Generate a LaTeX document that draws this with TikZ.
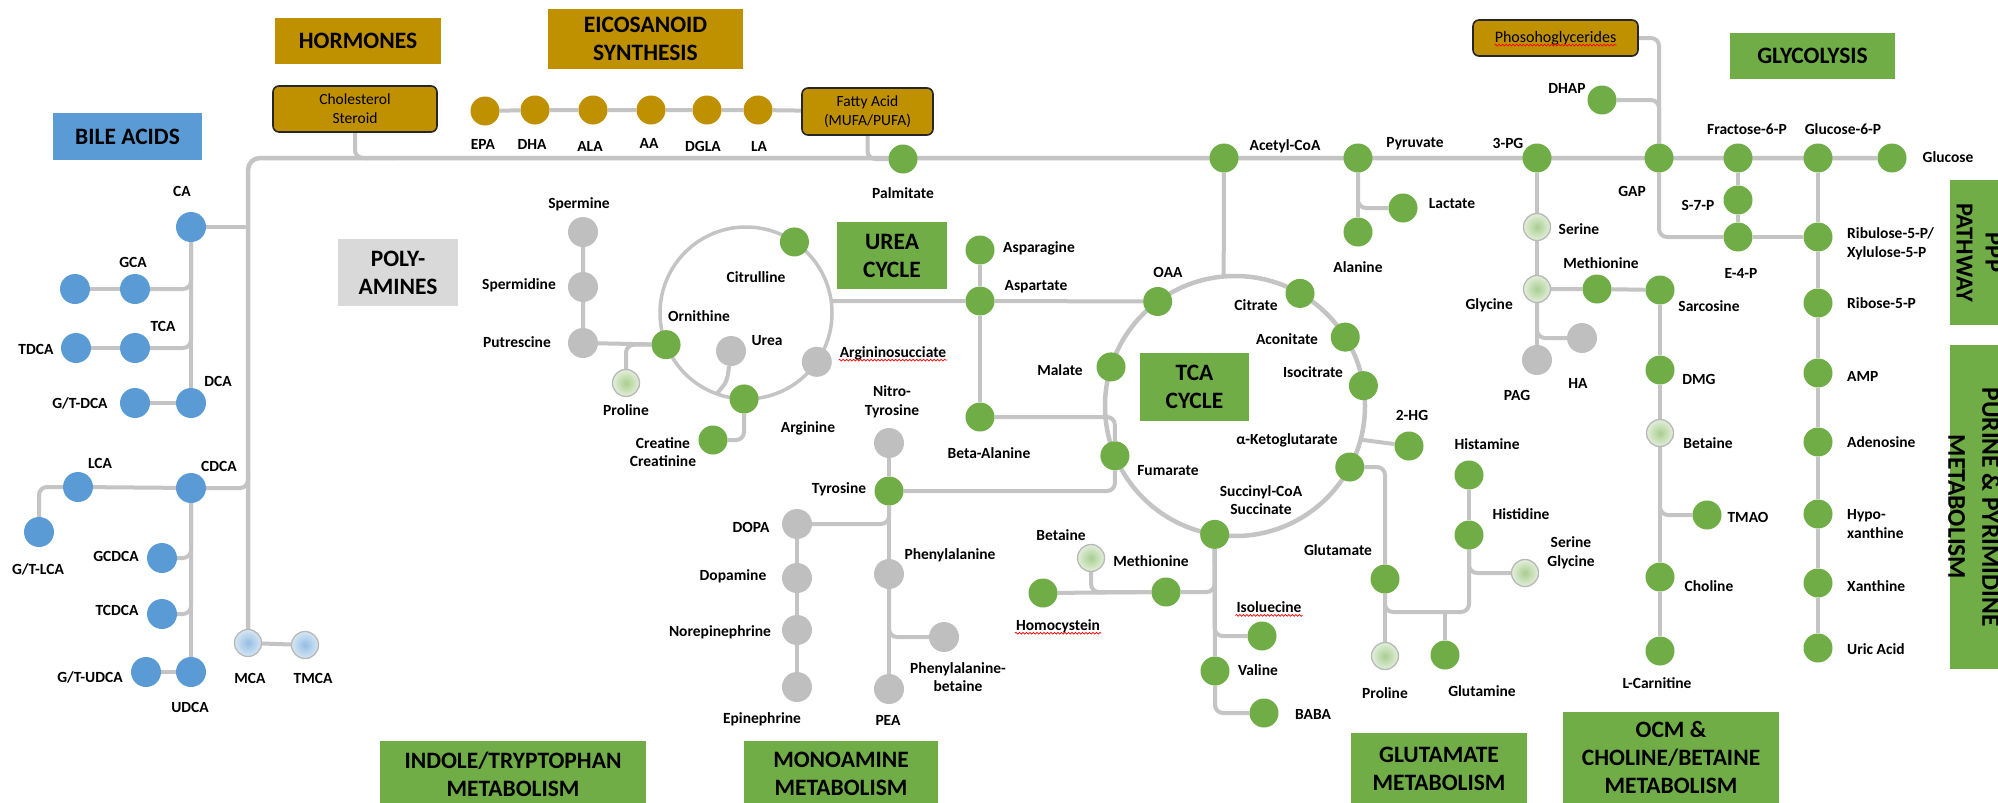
\documentclass[tikz,border=0pt]{standalone}
\usepackage{fontspec}
\setmainfont{Carlito}
\usetikzlibrary{calc,backgrounds,shadings,decorations.pathmorphing}

\definecolor{mgreen}{HTML}{70AD47}
\definecolor{mblue}{HTML}{5B9BD5}
\definecolor{mgold}{HTML}{BF9000}
\definecolor{mgrey}{HTML}{BFBFBF}
\definecolor{mline}{HTML}{C4C4C4}
\definecolor{mpale}{HTML}{D9D9D9}

\tikzset{
  met/.style={circle,minimum size=29pt,inner sep=0pt},
  gnode/.style={met,fill=mgreen},
  bnode/.style={met,fill=mblue,minimum size=30pt},
  ynode/.style={met,fill=mgold},
  snode/.style={met,fill=mgrey,minimum size=30pt},
  lgnode/.style={met,minimum size=27pt,draw=black!28,line width=1.3pt,inner color=mgreen!60!white,outer color=mgreen!20!white},
  lbnode/.style={met,minimum size=27pt,draw=black!28,line width=1.3pt,inner color=mblue!65!white,outer color=mblue!25!white},
  lab/.style={font=\bfseries\fontsize{15.5}{18.5}\selectfont,align=center,inner sep=1pt},
  ttl/.style={font=\bfseries\fontsize{23.5}{28}\selectfont,align=center,inner sep=0pt},
  gbox/.style={draw=black!85,line width=1.6pt,rounded corners=6pt,fill=mgold,font=\fontsize{15.5}{19}\selectfont,align=center,inner sep=0pt},
  link/.style={draw=mline,line width=4pt,rounded corners=8pt},
  squig/.style={red,line width=.7pt,decorate,decoration={snake,amplitude=.9pt,segment length=3.5pt}},
}

\begin{document}
\begin{tikzpicture}[x=1pt,y=-1pt]
\useasboundingbox (0,0) rectangle (1998,803);

% section titles
\node[ttl,fill=mgold,minimum width=166pt,minimum height=46pt] (hormones) at (358,41) {HORMONES};
\node[ttl,fill=mgold,minimum width=195pt,minimum height=60pt] (eico) at (645.5,39) {EICOSANOID\\SYNTHESIS};
\node[ttl,fill=mblue,minimum width=149pt,minimum height=47pt] (bile) at (127.5,136.5) {BILE ACIDS};
\node[ttl,fill=mpale,minimum width=120pt,minimum height=67pt] (poly) at (398,272.5) {POLY-\\AMINES};
\node[ttl,fill=mgreen,minimum width=110pt,minimum height=67pt] (ureabox) at (892,255.5) {UREA\\CYCLE};
\node[ttl,fill=mgreen,minimum width=109pt,minimum height=68pt] (tcabox) at (1194.5,387) {TCA\\CYCLE};
\node[ttl,fill=mgreen,minimum width=165pt,minimum height=46pt] (glyc) at (1812.5,56) {GLYCOLYSIS};
\fill[mgreen] (1950,180) rectangle (2010,325);
\node[ttl,rotate=-90,font=\bfseries\fontsize{24.5}{29}\selectfont] (ppp) at (1979,252.5) {PPP\\PATHWAY};
\fill[mgreen] (1950,345) rectangle (2010,669);
\node[ttl,rotate=-90,font=\bfseries\fontsize{25.5}{34}\selectfont] (purine) at (1974,507) {PURINE \& PYRIMIDINE\\METABOLISM};
\node[ttl,fill=mgreen,minimum width=266pt,minimum height=66pt] (indole) at (513,774) {INDOLE/TRYPTOPHAN\\METABOLISM};
\node[ttl,fill=mgreen,minimum width=194pt,minimum height=66pt] (mono) at (841,774) {MONOAMINE\\METABOLISM};
\node[ttl,fill=mgreen,minimum width=176pt,minimum height=71pt] (glutm) at (1439,768.5) {GLUTAMATE\\METABOLISM};
\node[ttl,fill=mgreen,minimum width=216pt,minimum height=91pt] (ocm) at (1671,757.5) {OCM \&\\CHOLINE/BETAINE\\METABOLISM};

% bile acids
\node[bnode] (ca) at (191,227) {};
\node[lab] (ca-t) at (182,191) {CA};
\node[bnode] (gca) at (135,289) {};
\node[lab] (gca-t) at (133,262) {GCA};
\node[bnode] (gca0) at (75,289) {};
\node[bnode] (tauca) at (135,348) {};
\node[lab] (tauca-t) at (163,326) {TCA};
\node[bnode] (tdca) at (76,348) {};
\node[lab] (tdca-t) at (36,349) {TDCA};
\node[bnode] (dca) at (191,403) {};
\node[lab] (dca-t) at (218,381) {DCA};
\node[bnode] (gtdca) at (135,403) {};
\node[lab] (gtdca-t) at (80,403) {G/T-DCA};
\node[bnode] (lca) at (78,487) {};
\node[lab] (lca-t) at (100,463) {LCA};
\node[bnode] (cdca) at (191,488) {};
\node[lab] (cdca-t) at (219,466) {CDCA};
\node[bnode] (gtlca) at (39,532) {};
\node[lab] (gtlca-t) at (38,569) {G/T-LCA};
\node[bnode] (gcdca) at (162,558) {};
\node[lab] (gcdca-t) at (116,556) {GCDCA};
\node[bnode] (tcdca) at (162,614) {};
\node[lab] (tcdca-t) at (117,610) {TCDCA};
\node[bnode] (udca) at (191,672) {};
\node[lab] (udca-t) at (190,707) {UDCA};
\node[bnode] (gtudca) at (146,672) {};
\node[lab] (gtudca-t) at (90,677) {G/T-UDCA};
\node[lbnode] (mca) at (248,643) {};
\node[lab] (mca-t) at (250,678) {MCA};
\node[lbnode] (tmca) at (305,645) {};
\node[lab] (tmca-t) at (313,678) {TMCA};

% hormones, eicosanoids
\node[gbox,minimum width=164pt,minimum height=46pt] (chol) at (355,109) {Cholesterol\\Steroid};
\node[gbox,minimum width=131pt,minimum height=47pt] (fatty) at (867.5,111.5) {Fatty Acid\\(MUFA/PUFA)};
\node[ynode] (epa) at (485,111) {};
\node[lab] (epa-t) at (483,144) {EPA};
\node[ynode] (dha) at (535,110) {};
\node[lab] (dha-t) at (532,144) {DHA};
\node[ynode] (ala) at (593,110) {};
\node[lab] (ala-t) at (590,146) {ALA};
\node[ynode] (aa) at (651,110) {};
\node[lab] (aa-t) at (649,143) {AA};
\node[ynode] (dgla) at (707,110) {};
\node[lab] (dgla-t) at (703,146) {DGLA};
\node[ynode] (la) at (758,110) {};
\node[lab] (la-t) at (759,146) {LA};
\node[gnode] (palm) at (903,159) {};
\node[lab] (palm-t) at (903,193) {Palmitate};

% polyamines and urea cycle
\coordinate (ucen) at (746,313);
\node[snode] (spm) at (583,232) {};
\node[lab] (spm-t) at (579,204) {Spermine};
\node[snode] (spmd) at (583,287) {};
\node[lab] (spmd-t) at (519,285) {Spermidine};
\node[snode] (putr) at (583,343) {};
\node[lab] (putr-t) at (517,342) {Putrescine};
\node[lgnode] (pro1) at (626,383) {};
\node[lab] (pro1-t) at (626,410) {Proline};
\node[gnode] (citr) at ($(ucen)+(-55.7:86)$) {};
\node[lab] (citr-t) at (756,277) {Citrulline};
\node[gnode] (orn) at ($(ucen)+(158.4:86)$) {};
\node[lab] (orn-t) at (699,316) {Ornithine};
\node[gnode] (arg) at ($(ucen)+(91.3:86)$) {};
\node[lab] (arg-t) at (808,428) {Arginine};
\node[snode] (asuc) at ($(ucen)+(34.6:86)$) {};
\node[lab] (asuc-t) at (893,353) {Argininosucciate};
\node[snode] (urea) at (731,351) {};
\node[lab] (urea-t) at (767,341) {Urea};
\node[gnode] (creat) at (713,440) {};
\node[lab] (creat-t) at (663,452) {Creatine\\Creatinine};

% aspartate, tyrosine
\node[gnode] (asn) at (980,250) {};
\node[lab] (asn-t) at (1039,248) {Asparagine};
\node[gnode] (asp) at (980,301) {};
\node[lab] (asp-t) at (1036,287) {Aspartate};
\node[gnode] (bala) at (980,417) {};
\node[lab] (bala-t) at (989,453) {Beta-Alanine};
\node[snode] (ntyr) at (889,443) {};
\node[lab] (ntyr-t) at (892,402) {Nitro-\\Tyrosine};
\node[gnode] (tyr) at (889,491) {};
\node[lab] (tyr-t) at (839,489) {Tyrosine};
\node[snode] (dopa) at (797,524) {};
\node[lab] (dopa-t) at (751,527) {DOPA};
\node[snode] (dopm) at (797,578) {};
\node[lab] (dopm-t) at (733,576) {Dopamine};
\node[snode] (nore) at (797,630) {};
\node[lab] (nore-t) at (720,632) {Norepinephrine};
\node[snode] (epi) at (797,687) {};
\node[lab] (epi-t) at (762,719) {Epinephrine};
\node[snode] (phe) at (889,574) {};
\node[lab] (phe-t) at (950,555) {Phenylalanine};
\node[snode] (pea) at (889,689) {};
\node[lab] (pea-t) at (888,720) {PEA};
\node[snode] (phebet) at (944,637) {};
\node[lab] (phebet-t) at (958,677) {Phenylalanine-\\betaine};

% tca cycle
\coordinate (tcen) at (1235,406);
\node[gnode] (acoa) at (1224,158) {};
\node[lab] (acoa-t) at (1285,146) {Acetyl-CoA};
\node[gnode] (pyr) at (1358,158) {};
\node[lab] (pyr-t) at (1415,144) {Pyruvate};
\node[gnode] (lac) at (1403,208) {};
\node[lab] (lac-t) at (1452,204) {Lactate};
\node[gnode] (alan) at (1358,232) {};
\node[lab] (alan-t) at (1358,267) {Alanine};
\node[gnode] (oaa) at ($(tcen)+(-126.5:130)$) {};
\node[lab] (oaa-t) at (1168,272) {OAA};
\node[gnode] (cit) at ($(tcen)+(-60:130)$) {};
\node[lab] (cit-t) at (1256,305) {Citrate};
\node[gnode] (acon) at ($(tcen)+(-32:130)$) {};
\node[lab] (acon-t) at (1287,339) {Aconitate};
\node[gnode] (isoc) at ($(tcen)+(-9:130)$) {};
\node[lab] (isoc-t) at (1313,372) {Isocitrate};
\node[gnode] (akg) at ($(tcen)+(28:130)$) {};
\node[lab] (akg-t) at (1287,440) {α-Ketoglutarate};
\node[gnode] (succ) at ($(tcen)+(99:130)$) {};
\node[lab] (succ-t) at (1261,500) {Succinyl-CoA\\Succinate};
\node[gnode] (fum) at ($(tcen)+(157.5:130)$) {};
\node[lab] (fum-t) at (1168,471) {Fumarate};
\node[gnode] (mal) at ($(tcen)+(197.5:130)$) {};
\node[lab] (mal-t) at (1060,370) {Malate};
\node[gnode] (hg2) at (1409,446) {};
\node[lab] (hg2-t) at (1412,415) {2-HG};
\node[gnode] (val) at (1215,671) {};
\node[lab] (val-t) at (1258,670) {Valine};
\node[gnode] (baba) at (1264,713) {};
\node[lab] (baba-t) at (1313,714) {BABA};
\node[gnode] (ile) at (1262,636) {};
\node[lab] (ile-t) at (1269,607) {Isoluecine};
\node[gnode] (met1) at (1166,592) {};
\node[lab] (met1-t) at (1151,561) {Methionine};
\node[gnode] (hcy) at (1043,593) {};
\node[lab] (hcy-t) at (1058,626) {Homocystein};
\node[lgnode] (bet1) at (1091,558) {};
\node[lab] (bet1-t) at (1061,535) {Betaine};

% glutamate
\node[gnode] (glu) at (1385,579) {};
\node[lab] (glu-t) at (1338,550) {Glutamate};
\node[lgnode] (pro2) at (1385,656) {};
\node[lab] (pro2-t) at (1385,693) {Proline};
\node[gnode] (gln) at (1445,655) {};
\node[lab] (gln-t) at (1482,691) {Glutamine};
\node[gnode] (hista) at (1469,475) {};
\node[lab] (hista-t) at (1487,444) {Histamine};
\node[gnode] (histi) at (1469,535) {};
\node[lab] (histi-t) at (1521,514) {Histidine};
\node[lgnode] (sergly) at (1525,573) {};
\node[lab] (sergly-t) at (1571,553) {Serine\\Glycine};

% glycolysis, ppp, purines
\node[gbox,minimum width=165pt,minimum height=36pt,font=\fontsize{16}{19}\selectfont] (phos) at (1555.5,38) {Phosohoglycerides};
\node[gnode] (dhap) at (1602,100) {};
\node[lab] (dhap-t) at (1567,88) {DHAP};
\node[gnode] (pg3) at (1537,158) {};
\node[lab] (pg3-t) at (1508,143) {3-PG};
\node[gnode] (gap) at (1659,158) {};
\node[lab] (gap-t) at (1632,191) {GAP};
\node[gnode] (f6p) at (1738,158) {};
\node[lab] (f6p-t) at (1747,129) {Fractose-6-P};
\node[gnode] (g6p) at (1818,158) {};
\node[lab] (g6p-t) at (1843,129) {Glucose-6-P};
\node[gnode] (glc) at (1892,158) {};
\node[lab] (glc-t) at (1948,157) {Glucose};
\node[gnode] (s7p) at (1738,200) {};
\node[lab] (s7p-t) at (1698,205) {S-7-P};
\node[gnode] (e4p) at (1738,237) {};
\node[lab] (e4p-t) at (1741,273) {E-4-P};
\node[gnode] (ru5p) at (1818,237) {};
\node[lab,anchor=west,align=left] (ru5p-t) at (1846,244) {Ribulose-5-P/\\Xylulose-5-P};
\node[gnode] (r5p) at (1818,303) {};
\node[lab,anchor=west] (r5p-t) at (1846,303) {Ribose-5-P};
\node[gnode] (amp) at (1818,373) {};
\node[lab,anchor=west] (amp-t) at (1846,376) {AMP};
\node[gnode] (ado) at (1818,442) {};
\node[lab,anchor=west] (ado-t) at (1846,442) {Adenosine};
\node[gnode] (hyp) at (1818,514) {};
\node[lab,anchor=west,align=left] (hyp-t) at (1846,524) {Hypo-\\xanthine};
\node[gnode] (xan) at (1818,583) {};
\node[lab,anchor=west] (xan-t) at (1846,586) {Xanthine};
\node[gnode] (uric) at (1818,648) {};
\node[lab,anchor=west] (uric-t) at (1846,649) {Uric Acid};

% serine, one carbon
\node[lgnode] (ser) at (1537,227) {};
\node[lab] (ser-t) at (1579,229) {Serine};
\node[lgnode] (gly) at (1537,289) {};
\node[lab,anchor=east] (gly-t) at (1514,305) {Glycine};
\node[snode] (pag) at (1537,360) {};
\node[lab] (pag-t) at (1517,395) {PAG};
\node[snode] (ha) at (1582,338) {};
\node[lab] (ha-t) at (1578,383) {HA};
\node[gnode] (met2) at (1597,289) {};
\node[lab] (met2-t) at (1601,263) {Methionine};
\node[gnode] (sar) at (1660,290) {};
\node[lab] (sar-t) at (1709,306) {Sarcosine};
\node[gnode] (dmg) at (1660,370) {};
\node[lab] (dmg-t) at (1699,379) {DMG};
\node[lgnode] (bet2) at (1660,433) {};
\node[lab] (bet2-t) at (1708,443) {Betaine};
\node[gnode] (tmao) at (1707,515) {};
\node[lab] (tmao-t) at (1748,517) {TMAO};
\node[gnode] (chln) at (1660,577) {};
\node[lab] (chln-t) at (1709,586) {Choline};
\node[gnode] (lcar) at (1660,651) {};
\node[lab] (lcar-t) at (1657,683) {L-Carnitine};

% spelling marks
\draw[squig] ([yshift=-3pt]asuc-t.base west) -- ([yshift=-3pt]asuc-t.base east);
\draw[squig] ([yshift=-3pt]ile-t.base west) -- ([yshift=-3pt]ile-t.base east);
\draw[squig] ([yshift=-3pt]hcy-t.base west) -- ([yshift=-3pt]hcy-t.base east);
\draw[squig] ([xshift=-61pt,yshift=-3pt]phos.base) -- ([xshift=61pt,yshift=-3pt]phos.base);

\begin{scope}[on background layer]
\fill[white] (0,0) rectangle (1998,803);
% main line
\coordinate (corner) at (248,158);
\draw[link,line width=4.5pt,rounded corners=12pt] (mca) -- (corner) -- (glc);
\draw[link] (mca) -- (tmca);
% bile acids
\coordinate (caj) at (248,227);
\coordinate (cdj) at (248,470);
\draw[link] (ca) -- (caj);
\draw[link] (ca) -- (dca);
\draw[link] (gca0) -- (gca);
\draw[link] (gca) -| (ca);
\draw[link] (tdca) -- (tauca);
\draw[link] (tauca) -| (ca);
\draw[link] (gtdca) -- (dca);
\draw[link] (cdca) -| (cdj);
\draw[link] (lca) -- (cdca);
\draw[link] (lca) -| (gtlca);
\draw[link] (cdca) -- (udca);
\draw[link] (gcdca) -| (cdca);
\draw[link] (tcdca) -| (cdca);
\draw[link] (gtudca) -- (udca);
% hormones, fatty acids
\coordinate (cholj) at (395,158);
\draw[link] (chol) |- (cholj);
\draw[link] (epa) -- (dha) -- (ala) -- (aa) -- (dgla) -- (la) -- (fatty);
\draw[link] (fatty) |- (palm);
% polyamines, urea cycle
\draw[link,line width=3.5pt] (ucen) circle[radius=86pt];
\coordinate (uj) at ($(ucen)+(110:86)$);
\coordinate (aspj) at ($(ucen)+(-8:86)$);
\draw[link] (spm) -- (spmd) -- (putr) -- (orn);
\draw[link] (pro1) |- (orn);
\draw[link] (urea) .. controls (727,382) .. (uj);
\draw[link] (arg) |- (creat);
\draw[link] (asp) -- (aspj);
% tca cycle
\draw[link,line width=4.5pt] (tcen) circle[radius=130pt];
\coordinate (acj) at ($(tcen)+(-95:130)$);
\coordinate (hgj) at ($(tcen)+(15:130)$);
\draw[link] (asn) -- (asp) -- (bala);
\draw[link] (asp) -- (oaa);
\draw[link] (bala) -| (fum);
\draw[link] (tyr) -| (fum);
\draw[link] (acoa) -- (acj);
\draw[link] (pyr) -- (alan);
\draw[link] (lac) -| (pyr);
\draw[link] (hg2) -- (hgj);
\draw[link] (akg) -| (glu);
\draw[link] (succ) -- (val);
\draw[link] (val) |- (baba);
\draw[link] (ile) -| (succ);
\draw[link] (met1) -| (succ);
\draw[link] (hcy) -- (met1);
\draw[link] (bet1) |- (met1);
% glutamate
\coordinate (gbar) at (1469,612);
\draw[link] (glu) -- (pro2);
\draw[link] (glu) |- (gbar) -- (histi);
\draw[link] (gln) -- (gln |- gbar);
\draw[link] (hista) -- (histi);
\draw[link] (sergly) -| (histi);
% monoamines
\draw[link] (ntyr) -- (tyr) -- (phe) -- (pea);
\draw[link] (dopa) -| (tyr);
\draw[link] (dopa) -- (dopm) -- (nore) -- (epi);
\draw[link] (phebet) -| (phe);
% glycolysis, ppp, purines
\draw[link] (phos) -| (gap);
\draw[link] (dhap) -| (gap);
\draw[link] (gap) |- (e4p);
\draw[link] (e4p) -- (ru5p);
\draw[link] (f6p) -- (s7p) -- (e4p);
\draw[link] (g6p) -- (ru5p) -- (r5p) -- (amp) -- (ado) -- (hyp) -- (xan) -- (uric);
% serine, one carbon
\draw[link] (pg3) -- (ser) -- (gly) -- (pag);
\draw[link] (ha) -| (gly);
\draw[link] (gly) -- (met2) -- (sar);
\draw[link] (sar) -- (dmg) -- (bet2) -- (chln) -- (lcar);
\draw[link] (tmao) -| (bet2);
\end{scope}
\end{tikzpicture}
\end{document}
